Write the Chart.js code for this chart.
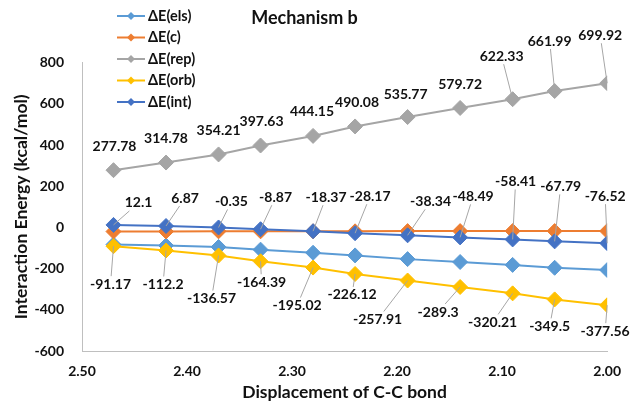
<!DOCTYPE html>
<html>
<head>
<meta charset="utf-8">
<script src="https://cdn.jsdelivr.net/npm/chart.js@4"></script>
<style>
  html, body { margin: 0; padding: 0; background: #fff; }
  #wrap { width: 633px; height: 408px; }
</style>
</head>
<body>
<div id="wrap"><canvas id="grafico"></canvas></div>
<script>
// dados
const displacement = [2.47, 2.42, 2.37, 2.33, 2.28, 2.24, 2.19, 2.14, 2.09, 2.05, 2.00];
const dEels = [-83, -88, -95, -108, -123, -136, -154, -168, -182, -196, -207];
const dEc = [-20, -20, -19, -19, -19, -19, -18, -18, -18, -18, -18];
const dErep = [277.78, 314.78, 354.21, 397.63, 444.15, 490.08, 535.77, 579.72, 622.33, 661.99, 699.92];
const dEorb = [-91.17, -112.2, -136.57, -164.39, -195.02, -226.12, -257.91, -289.3, -320.21, -349.5, -377.56];
const dEint = [12.1, 6.87, -0.35, -8.87, -18.37, -28.17, -38.34, -48.49, -58.41, -67.79, -76.52];
const xTicks = [2.50, 2.40, 2.30, 2.20, 2.10, 2.00];
const yTicks = [-600, -400, -200, 0, 200, 400, 600, 800];

// posição dos rótulos (px em relação ao ponto)
const repOffsets = [[1,-24],[0,-24],[0,-24],[1,-24],[-1,-24],[2,-24],[-2,-23],[0,-23],[-11,-43],[-5,-50],[-7,-48]];
const intOffsets = [[25,-22],[19,-28],[13,-26],[15,-32],[13,-34],[15,-37],[23,-34],[13,-41],[3,-58],[6,-55],[-2,-47]];
const orbOffsets = [[-3,38],[-3,34],[-7,43],[1,21],[-16,38],[-3,21],[-30,39],[-22,25],[-20,29],[-5,27],[-2,26]];

const FONT = 'Lato, "Open Sans", sans-serif';
const TEXT = '#111111';

function serie(label, valores, cor, ordem, extra) {
  return Object.assign({
    label: label,
    data: displacement.map((x, i) => ({ x: x, y: valores[i] })),
    borderColor: cor,
    backgroundColor: cor,
    borderWidth: 2,
    pointStyle: 'rectRot',
    pointRadius: 7.5,
    pointBorderWidth: 1,
    pointBorderColor: cor,
    pointBackgroundColor: cor,
    tension: 0,
    order: ordem
  }, extra || {});
}

const rotulos = {
  id: 'rotulos',
  afterDatasetsDraw(chart) {
    const ctx = chart.ctx;
    ctx.save();
    ctx.font = 'bold 14px ' + FONT;
    ctx.textAlign = 'center';
    ctx.textBaseline = 'middle';
    chart.data.datasets.forEach((ds, i) => {
      if (!ds.labelOffsets) return;
      const meta = chart.getDatasetMeta(i);
      meta.data.forEach((pt, j) => {
        const [dx, dy] = ds.labelOffsets[j];
        const cx = pt.x + dx, cy = pt.y + dy;
        const txt = String(ds.data[j].y);
        const w = ctx.measureText(txt).width / 2 + 2;
        const h = 8;
        if (ds.leader === 'always' || Math.abs(dy) > 30) {
          const vx = pt.x - cx, vy = pt.y - cy;
          const t = Math.min(vx ? w / Math.abs(vx) : Infinity, vy ? h / Math.abs(vy) : Infinity);
          if (t < 1) {
            ctx.strokeStyle = '#a6a6a6';
            ctx.lineWidth = 1;
            ctx.beginPath();
            ctx.moveTo(pt.x, pt.y);
            ctx.lineTo(cx + vx * t, cy + vy * t);
            ctx.stroke();
          }
        }
        ctx.fillStyle = TEXT;
        ctx.fillText(txt, cx, cy);
      });
    });
    ctx.restore();
  }
};

// legenda vertical dentro do gráfico
const legenda = {
  id: 'legenda',
  afterDraw(chart) {
    const ctx = chart.ctx;
    ctx.save();
    ctx.font = 'bold 14.5px ' + FONT;
    ctx.textBaseline = 'middle';
    ctx.textAlign = 'left';
    chart.data.datasets.forEach((ds, i) => {
      const y = 16 + i * 21.5;
      ctx.strokeStyle = ds.borderColor;
      ctx.lineWidth = 2;
      ctx.beginPath();
      ctx.moveTo(117, y);
      ctx.lineTo(145, y);
      ctx.stroke();
      ctx.fillStyle = ds.borderColor;
      ctx.beginPath();
      ctx.moveTo(131, y - 4);
      ctx.lineTo(135, y);
      ctx.lineTo(131, y + 4);
      ctx.lineTo(127, y);
      ctx.closePath();
      ctx.fill();
      ctx.fillStyle = TEXT;
      ctx.fillText(ds.label, 148, y);
    });
    ctx.restore();
  }
};

const chart = new Chart(document.getElementById('grafico'), {
  type: 'line',
  data: {
    datasets: [
      serie('ΔE(els)', dEels, '#5B9BD5', 4),
      serie('ΔE(c)', dEc, '#ED7D31', 3),
      serie('ΔE(rep)', dErep, '#A5A5A5', 2, { labelOffsets: repOffsets, leader: 'far' }),
      serie('ΔE(orb)', dEorb, '#FFC000', 1, { labelOffsets: orbOffsets, leader: 'always' }),
      serie('ΔE(int)', dEint, '#4472C4', 0, { labelOffsets: intOffsets, leader: 'always' })
    ]
  },
  options: {
    responsive: true,
    maintainAspectRatio: false,
    animation: false,
    layout: { padding: { top: 0, right: 24, bottom: 0, left: 0 } },
    plugins: {
      legend: { display: false },
      tooltip: { enabled: false },
      title: {
        display: true,
        text: 'Mechanism b',
        color: TEXT,
        font: { family: FONT, size: 18, weight: 'bold' },
        padding: { top: 7, bottom: 34 }
      }
    },
    scales: {
      x: {
        type: 'linear',
        reverse: true,
        min: 2.0,
        max: 2.5,
        afterBuildTicks: (s) => { s.ticks = xTicks.map(v => ({ value: v })); },
        afterFit: (s) => { s.height = 57; },
        grid: { display: false, drawTicks: false },
        border: { display: true, color: '#bfbfbf', width: 1 },
        ticks: {
          padding: 12,
          color: TEXT,
          font: { family: FONT, size: 14, weight: 'bold' },
          callback: (v) => Number(v).toFixed(2)
        },
        title: {
          display: true,
          text: 'Displacement of C-C bond',
          color: TEXT,
          font: { family: FONT, size: 17.5, weight: 'bold' },
          padding: { top: 0, bottom: 5 }
        }
      },
      y: {
        min: -600,
        max: 800,
        afterBuildTicks: (s) => { s.ticks = yTicks.map(v => ({ value: v })); },
        afterFit: (s) => { s.width = 82; },
        grid: { display: false, drawTicks: false },
        border: { display: true, color: '#bfbfbf', width: 1 },
        ticks: {
          padding: 18,
          color: TEXT,
          font: { family: FONT, size: 14, weight: 'bold' }
        },
        title: {
          display: true,
          text: 'Interaction Energy (kcal/mol)',
          color: TEXT,
          font: { family: FONT, size: 17.5, weight: 'bold' },
          padding: { top: 11, bottom: 0 }
        }
      }
    }
  },
  plugins: [rotulos, legenda]
});
</script>
</body>
</html>
